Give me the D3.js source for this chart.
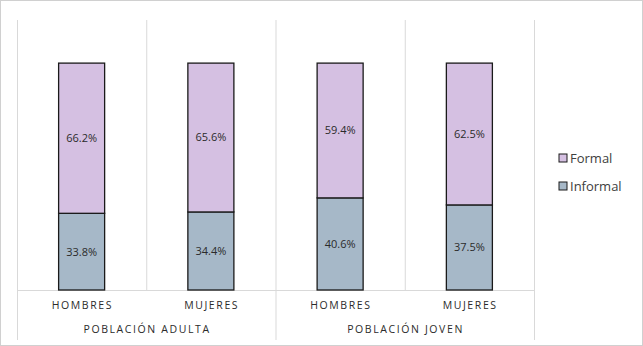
<!DOCTYPE html>
<html>
<head>
<meta charset="utf-8">
<script src="https://cdn.jsdelivr.net/npm/d3@7"></script>
<style>
  body { margin: 0; background: #fff; }
  svg { display: block; font-family: "Open Sans", "Noto Sans", sans-serif; }
</style>
</head>
<body>
<div id="chart"></div>
<script>
// data
const groups = ["POBLACIÓN ADULTA", "POBLACIÓN JOVEN"];
const sexes = ["HOMBRES", "MUJERES"];
const informal = [0.338, 0.344, 0.406, 0.375];
const formal = [0.662, 0.656, 0.594, 0.625];
const seriesNames = ["Formal", "Informal"];
const colors = { Formal: "#d5c0e2", Informal: "#a6b8c8" };

const W = 643, H = 346;
const plotL = 17, plotR = 534, plotT = 20, base = 290;
const spacing = 1.6;

const svg = d3.select("#chart").append("svg")
    .attr("width", W)
    .attr("height", H);

// outer frame
svg.append("rect")
    .attr("x", 0.5).attr("y", 0.5)
    .attr("width", W - 1).attr("height", H - 1)
    .attr("fill", "#fff")
    .attr("stroke", "#d0d0d0");

const cats = [];
groups.forEach((g, gi) => sexes.forEach((s, si) => cats.push({ key: gi + "-" + si, group: g, sex: s })));

const x = d3.scaleBand()
    .domain(cats.map(d => d.key))
    .range([plotL, plotR])
    .paddingInner(0.644)
    .paddingOuter(0.322);

const xCat = d3.scaleBand().domain(cats.map(d => d.key)).range([plotL, plotR]);
const xGrp = d3.scaleBand().domain(groups).range([plotL, plotR]);

const y = d3.scaleLinear().domain([0, 1.19]).range([base, plotT]);

// vertical gridlines between categories
const gridX = cats.map(d => xCat(d.key)).concat([plotR]);
svg.append("g").selectAll("line")
    .data(gridX)
    .join("line")
    .attr("x1", d => d + 0.5).attr("x2", d => d + 0.5)
    .attr("y1", plotT).attr("y2", base)
    .attr("stroke", "#d9d9d9");

// axis line + group separators
svg.append("line")
    .attr("x1", plotL).attr("x2", plotR + 1)
    .attr("y1", base + 0.5).attr("y2", base + 0.5)
    .attr("stroke", "#d9d9d9");

const sepX = groups.map(g => xGrp(g)).concat([plotR]);
svg.append("g").selectAll("line")
    .data(sepX)
    .join("line")
    .attr("x1", d => d + 0.5).attr("x2", d => d + 0.5)
    .attr("y1", base).attr("y2", 340)
    .attr("stroke", "#d9d9d9");

// stacked bars
const rows = cats.map((c, i) => ({ key: c.key, Informal: informal[i], Formal: formal[i] }));
const stack = d3.stack().keys(["Informal", "Formal"])(rows);

const layers = svg.append("g").selectAll("g")
    .data(stack)
    .join("g")
    .attr("fill", d => colors[d.key]);

layers.selectAll("rect")
    .data(d => d)
    .join("rect")
    .attr("x", d => x(d.data.key))
    .attr("y", d => y(d[1]))
    .attr("width", x.bandwidth())
    .attr("height", d => y(d[0]) - y(d[1]))
    .attr("stroke", "#1a1a1a")
    .attr("stroke-width", 1.3);

layers.selectAll("text")
    .data(d => d.map(v => ({ v, key: d.key })))
    .join("text")
    .attr("x", d => x(d.v.data.key) + x.bandwidth() / 2)
    .attr("y", d => (y(d.v[0]) + y(d.v[1])) / 2)
    .attr("dy", "0.35em")
    .attr("text-anchor", "middle")
    .attr("fill", "#2b2b2b")
    .style("font-size", "11px")
    .text(d => (d.v.data[d.key] * 100).toFixed(1) + "%");

// category labels
svg.append("g").selectAll("text")
    .data(cats)
    .join("text")
    .attr("x", d => xCat(d.key) + xCat.bandwidth() / 2 + spacing / 2)
    .attr("y", 309)
    .attr("text-anchor", "middle")
    .attr("fill", "#2b2b2b")
    .style("font-size", "10.5px")
    .style("letter-spacing", spacing + "px")
    .text(d => d.sex);

svg.append("g").selectAll("text")
    .data(groups)
    .join("text")
    .attr("x", d => xGrp(d) + xGrp.bandwidth() / 2 + spacing / 2)
    .attr("y", 333)
    .attr("text-anchor", "middle")
    .attr("fill", "#2b2b2b")
    .style("font-size", "10.5px")
    .style("letter-spacing", spacing + "px")
    .text(d => d);

// legend
const legend = svg.append("g").selectAll("g")
    .data(seriesNames)
    .join("g")
    .attr("transform", (d, i) => "translate(559," + (154 + i * 28) + ")");

legend.append("rect")
    .attr("width", 8).attr("height", 8)
    .attr("fill", d => colors[d])
    .attr("stroke", "#1a1a1a");

legend.append("text")
    .attr("x", 11).attr("y", 4)
    .attr("dy", "0.35em")
    .attr("fill", "#404040")
    .style("font-size", "13px")
    .text(d => d);
</script>
</body>
</html>
